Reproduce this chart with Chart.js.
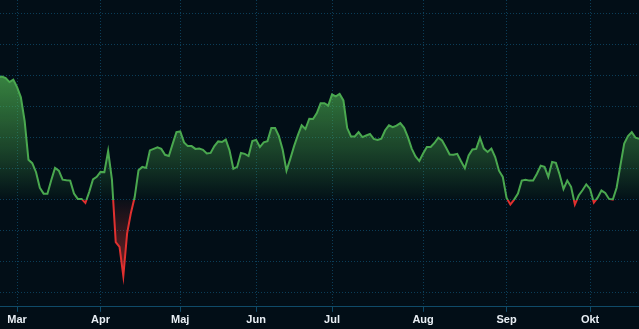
<!DOCTYPE html>
<html>
<head>
<meta charset="utf-8">
<script src="https://cdn.jsdelivr.net/npm/chart.js@4.4.1/dist/chart.umd.min.js"></script>
<style>
  html, body { margin: 0; padding: 0; background: #020e17; }
  canvas { display: block; }
</style>
</head>
<body>
<canvas id="chart" width="639" height="329"></canvas>
<script>
// month tick labels and the trading-day index where each month starts
const monthLabels = ['Mar', 'Apr', 'Maj', 'Jun', 'Jul', 'Aug', 'Sep', 'Okt'];
const monthStarts = [5, 27, 48, 68, 88, 112, 134, 156];

// daily values (one per trading day)
const values = [
  39.3, 39.6, 39.1, 37.8, 38.6, 36.2, 32.9, 25.2, 12.8, 11.7,
  8.8, 3.8, 1.9, 1.9, 6.2, 10.2, 9.3, 6.4, 6.2, 6.1,
  1.9, 0.2, 0.2, -1.1, 2.4, 6.5, 7.3, 8.9, 8.8, 15.6,
  6.4, -13.7, -15.2, -24.6, -10.9, -4.3, 0.8, 9.4, 10.5, 10.2,
  15.8, 16.3, 16.8, 16.3, 14.4, 14.0, 17.9, 21.7, 21.9, 18.4,
  17.2, 17.2, 16.3, 16.4, 16.0, 14.8, 15.0, 17.2, 18.7, 18.5,
  19.3, 15.8, 9.9, 10.5, 15.0, 14.7, 14.0, 18.8, 19.2, 16.9,
  18.4, 18.8, 23.0, 23.0, 20.4, 16.0, 9.3, 13.1, 17.2, 20.7,
  23.9, 22.7, 26.0, 25.9, 27.8, 31.0, 31.0, 30.2, 33.8, 33.2,
  34.0, 31.9, 23.0, 20.3, 20.3, 21.7, 20.1, 20.6, 21.1, 19.5,
  19.2, 19.6, 22.3, 23.9, 23.3, 23.8, 24.6, 23.1, 20.1, 16.4,
  13.9, 12.4, 14.8, 16.9, 16.9, 18.2, 19.9, 19.0, 16.8, 14.5,
  14.4, 14.7, 12.3, 10.1, 14.2, 16.1, 16.3, 19.9, 16.4, 15.3,
  16.4, 13.7, 9.3, 7.3, 0.5, -1.6, 0.0, 1.9, 6.1, 6.4,
  6.1, 6.1, 8.3, 10.9, 10.5, 7.3, 12.1, 11.8, 8.0, 3.4,
  6.1, 4.1, -1.6, 1.3, 3.0, 4.9, 3.4, -1.0, 0.6, 2.9,
  2.1, 0.2, 0.0, 3.8, 11.0, 18.0, 20.4, 21.7, 19.9, 19.5
];

const days = values.map((v, i) => i);

// green above zero, red below: built once the scales are laid out
const zeroSplit = {
  id: 'zeroSplit',
  afterLayout(chart) {
    const area = chart.chartArea;
    const ctx = chart.ctx;
    const zero = chart.scales.y.getPixelForValue(0);
    const zf = Math.min(Math.max((zero - area.top) / (area.bottom - area.top), 0), 1);

    const stroke = ctx.createLinearGradient(0, area.top, 0, area.bottom);
    stroke.addColorStop(0, '#4aa84f');
    stroke.addColorStop(zf, '#4aa84f');
    stroke.addColorStop(zf, '#e0302f');
    stroke.addColorStop(1, '#e0302f');

    const up = ctx.createLinearGradient(0, area.top + 80, 0, zero);
    up.addColorStop(0, 'rgba(76,175,80,0.7)');
    up.addColorStop(0.6, 'rgba(76,175,80,0.32)');
    up.addColorStop(1, 'rgba(76,175,80,0.02)');

    const down = ctx.createLinearGradient(0, zero, 0, zero + 75);
    down.addColorStop(0, 'rgba(229,57,53,0.04)');
    down.addColorStop(1, 'rgba(229,57,53,0.5)');

    const ds = chart.data.datasets[0];
    ds.borderColor = stroke;
    ds.fill = { target: { value: 0 }, above: up, below: down };
  }
};

const gridColor = '#0b3d58';

new Chart(document.getElementById('chart'), {
  type: 'line',
  data: {
    labels: days,
    datasets: [{
      data: values,
      borderColor: '#4aa84f',
      borderWidth: 2,
      pointRadius: 0,
      tension: 0,
      fill: { target: { value: 0 } }
    }]
  },
  options: {
    responsive: false,
    animation: false,
    layout: { padding: 0 },
    plugins: { legend: { display: false }, tooltip: { enabled: false } },
    scales: {
      x: {
        type: 'linear',
        min: 0.5,
        max: 168.9,
        afterBuildTicks: scale => {
          scale.ticks = monthStarts.map(v => ({ value: v }));
        },
        ticks: {
          autoSkip: false,
          maxRotation: 0,
          padding: 2,
          color: '#e8eef4',
          font: { family: 'Arial, "Liberation Sans", sans-serif', size: 11, weight: 'bold' },
          callback: v => monthLabels[monthStarts.indexOf(v)]
        },
        grid: { color: gridColor, lineWidth: 1, tickLength: 5, tickColor: '#0f4a68' },
        border: { display: true, color: '#0f4a68', width: 1, dash: [1, 2] }
      },
      y: {
        min: -34.5,
        max: 64.2,
        ticks: { display: false, stepSize: 10, includeBounds: false },
        grid: { color: gridColor, lineWidth: 1, drawTicks: false },
        border: { display: false, dash: [1, 2] }
      }
    }
  },
  plugins: [zeroSplit]
});
</script>
</body>
</html>
